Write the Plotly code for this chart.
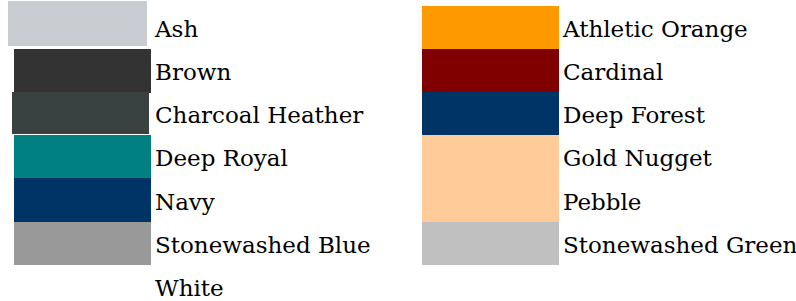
import plotly.graph_objects as go

# Data
left_names = ["Ash", "Brown", "Charcoal Heather", "Deep Royal", "Navy", "Stonewashed Blue", "White"]
left_colors = ["#c9cdd1", "#333333", "#394141", "#008080", "#003366", "#999999", "#ffffff"]
right_names = ["Athletic Orange", "Cardinal", "Deep Forest", "Gold Nugget", "Pebble", "Stonewashed Green"]
right_colors = ["#ff9900", "#800000", "#003366", "#ffcc99", "#ffcc99", "#c0c0c0"]

W, H = 796, 301
ROW0, ROWH = 27.5, 43.2
SW_W = 137
col_x = {"left": 14, "right": 422}
lab_x = {"left": 155, "right": 563}
# small per-swatch nudges seen in the picture (x, y, extra width/height)
left_nudge = [(-6, -4, 2, 2), (0, 0, 0, 0), (-2, -1, 0, -1), (0, 0, 0, 0), (0, 0, 0, 0), (0, 0, 0, 0), (0, 0, 0, 0)]

fig = go.Figure()
FONT = dict(family="DejaVu Serif", size=23, color="#000000")

def add_column(names, colors, side, nudges=None):
    for i, (n, c) in enumerate(zip(names, colors)):
        dx, dy, dw, dh = nudges[i] if nudges else (0, 0, 0, 0)
        yc = ROW0 + ROWH * i + dy
        if c.lower() != "#ffffff":
            fig.add_trace(go.Bar(
                y=[yc], x=[SW_W + dw], base=[col_x[side] + dx], orientation="h",
                width=[ROWH + dh + 0.6], marker=dict(color=c, line=dict(width=0)),
                showlegend=False, hoverinfo="skip"))
        fig.add_trace(go.Scatter(
            x=[lab_x[side]], y=[ROW0 + ROWH * i + 3.5], mode="text", text=[n],
            textposition="middle right", textfont=FONT,
            showlegend=False, hoverinfo="skip"))

add_column(left_names, left_colors, "left", left_nudge)
add_column(right_names, right_colors, "right")

fig.update_layout(
    width=W, height=H, margin=dict(l=0, r=0, t=0, b=0),
    paper_bgcolor="white", plot_bgcolor="white", barmode="overlay", bargap=0,
    xaxis=dict(range=[0, W], visible=False, fixedrange=True),
    yaxis=dict(range=[H, 0], visible=False, fixedrange=True),
)
fig.write_html("out.html", config={"displayModeBar": False},
               post_script="document.body.style.margin='0';document.body.style.overflow='hidden';")
